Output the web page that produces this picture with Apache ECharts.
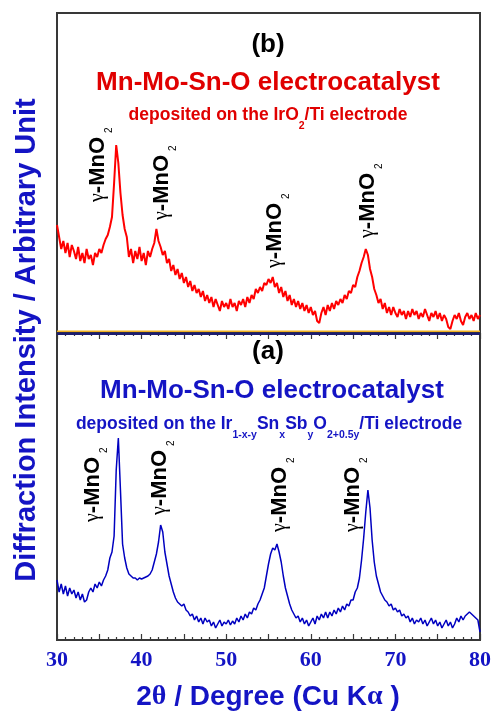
<!DOCTYPE html>
<html>
<head>
<meta charset="utf-8">
<script src="https://cdn.jsdelivr.net/npm/echarts@6/dist/echarts.min.js"></script>
<style>
  html, body { margin: 0; padding: 0; background: #fff; }
  #chart { width: 494px; height: 713px; }
</style>
</head>
<body>
<div id="chart"></div>
<script>
// 2theta grid of the scans (degrees)
const twoThetaStart = 30;
const twoThetaStep = 0.25;

// (b) Mn-Mo-Sn-O on IrO2/Ti, arbitrary intensity, one row per degree
const redIntensity = [
  108, 96, 84, 92,   80, 90, 76, 88,   82, 74, 86, 72,   80, 70, 84, 74,
  78, 68, 80, 76,    84, 80, 88, 94,   98, 106, 116, 150, 188, 170, 140, 118,
  104, 96, 76, 84,   70, 82, 74, 86,   72, 80, 68, 82,   76, 84, 90, 104,
  92, 86, 78, 82,    70, 74, 62, 68,   58, 64, 54, 60,   50, 56, 46, 52,
  42, 48, 40, 44,    36, 42, 32, 38,   30, 36, 26, 34,   28, 22, 32, 26,
  30, 24, 34, 26,    30, 22, 32, 28,   34, 26, 36, 30,   38, 34, 44, 40,
  46, 42, 50, 48,    54, 50, 56, 46,   50, 40, 46, 36,   42, 32, 38, 28,
  34, 26, 32, 24,    30, 22, 28, 20,   26, 18, 22, 12,   10, 20, 26, 18,
  28, 22, 30, 24,    32, 28, 34, 30,   38, 34, 42, 40,   48, 46, 56, 62,
  70, 76, 84, 78,    64, 56, 44, 38,   30, 34, 24, 30,   20, 26, 18, 26,
  20, 16, 24, 18,    22, 14, 22, 16,   24, 18, 22, 14,   20, 16, 24, 18,
  12, 20, 16, 22,    14, 20, 12, 18,   14, 6, 4, 12,     18, 14, 20, 12,
  8, 16, 20, 14,     18, 12, 20, 14,
  18
];

// (a) Mn-Mo-Sn-O on Ir1-x-ySnxSbyO2+0.5y/Ti
const blueIntensity = [
  60, 48, 56, 46,    54, 44, 52, 46,   50, 42, 48, 40,   46, 38, 40, 48,
  52, 48, 56, 52,    58, 54, 60, 64,   70, 82, 88, 104,  170, 202, 150, 96,
  82, 72, 66, 64,    62, 62, 60, 62,   61, 62, 63, 64,   66, 70, 78, 86,
  98, 115, 108, 88,  76, 64, 56, 48,   42, 38, 36, 34,   36, 30, 28, 24,
  26, 20, 24, 18,    22, 16, 22, 18,   20, 14, 18, 12,   16, 20, 14, 18,
  16, 20, 15, 19,    16, 22, 18, 24,   20, 26, 22, 28,   26, 32, 30, 36,
  40, 46, 52, 64,    76, 86, 92, 90,   96, 88, 78, 64,   52, 44, 36, 30,
  26, 22, 24, 18,    22, 16, 20, 14,   18, 22, 16, 24,   20, 26, 22, 28,
  22, 28, 24, 30,    26, 32, 28, 34,   30, 36, 34, 40,   40, 48, 52, 62,
  80, 102, 128, 150, 132, 100, 78, 64, 56, 48, 44, 40,   38, 34, 36, 30,
  32, 28, 30, 24,    26, 22, 24, 18,   22, 16, 20, 18,   22, 16, 20, 14,
  18, 22, 16, 20,    14, 18, 12, 16,   20, 14, 18, 12,   16, 22, 18, 24,
  20, 24, 26, 28,    26, 24, 22, 20,
  8
];

const xMin = 30;
const xMax = 80;
const xMajor = 5;
const xLabelValues = [30, 40, 50, 60, 70, 80];

const SANS = '"Liberation Sans", Arial, sans-serif';
const SERIF = '"Liberation Serif", "Times New Roman", serif';
const BLUE = '#1414c4';
const RED = '#e00000';
const FRAME = '#383838';

function toPairs(values) {
  return values.map((v, i) => [twoThetaStart + i * twoThetaStep, v]);
}

function xAxisFor(gridIndex, position, withLabels) {
  return {
    type: 'value',
    gridIndex: gridIndex,
    position: position,
    min: xMin,
    max: xMax,
    interval: xMajor,
    axisLine: { show: false },
    axisTick: { show: true, inside: true, length: 6, lineStyle: { color: FRAME, width: 1.2 } },
    minorTick: { show: true, splitNumber: 5, length: 3, lineStyle: { color: FRAME, width: 1.2 } },
    splitLine: { show: false },
    minorSplitLine: { show: false },
    axisLabel: {
      show: withLabels,
      margin: 9,
      fontFamily: SERIF,
      fontWeight: 'bold',
      fontSize: 22,
      color: BLUE,
      showMinLabel: true,
      showMaxLabel: true,
      formatter: (v) => (xLabelValues.indexOf(v) >= 0 ? String(v) : '')
    }
  };
}

// rotated "γ-MnO2" peak labels: x = column centre, y = bottom end
function peakLabel(x, y) {
  return {
    type: 'text',
    x: x,
    y: y,
    rotation: Math.PI / 2,
    z: 100,
    style: {
      text: '{g|γ}{m|-MnO}{s|2}',
      align: 'left',
      verticalAlign: 'middle',
      fill: '#000',
      rich: {
        g: { fontFamily: SERIF, fontSize: 20, lineHeight: 24, fill: '#000' },
        m: { fontFamily: SANS, fontSize: 22, fontWeight: 'bold', lineHeight: 24, fill: '#000' },
        s: { fontFamily: SANS, fontSize: 10, lineHeight: 1, verticalAlign: 'top', padding: [18, 0, 0, 4], fill: '#000' }
      }
    }
  };
}

function centerText(x, y, text, size, color, rich) {
  return {
    type: 'text',
    x: x,
    y: y,
    z: 100,
    style: {
      text: text,
      align: 'center',
      verticalAlign: 'middle',
      fontFamily: SANS,
      fontWeight: 'bold',
      fontSize: size,
      fill: color,
      rich: rich
    }
  };
}

const subRich = (color) => ({
  t: { fontFamily: SANS, fontWeight: 'bold', fontSize: 17.5, lineHeight: 20, fill: color },
  s: { fontFamily: SANS, fontWeight: 'bold', fontSize: 10.5, lineHeight: 1, verticalAlign: 'top', padding: [16, 0, 0, 0], fill: color }
});

const chart = echarts.init(document.getElementById('chart'));

const option = {
  animation: false,
  backgroundColor: '#fff',
  grid: [
    { left: 57, right: 14, top: 13, height: 320, show: true, borderColor: FRAME, borderWidth: 2 },
    { left: 57, right: 14, top: 333, height: 307, show: true, borderColor: FRAME, borderWidth: 2 }
  ],
  xAxis: [
    xAxisFor(0, 'top', false),
    xAxisFor(1, 'bottom', true)
  ],
  yAxis: [
    { type: 'value', gridIndex: 0, min: 0, max: 320, show: false },
    { type: 'value', gridIndex: 1, min: 0, max: 307, show: false }
  ],
  series: [
    {
      name: '(b)',
      type: 'line',
      xAxisIndex: 0,
      yAxisIndex: 0,
      data: toPairs(redIntensity),
      showSymbol: false,
      lineStyle: { color: '#ff0000', width: 2 }
    },
    {
      name: '(a)',
      type: 'line',
      xAxisIndex: 1,
      yAxisIndex: 1,
      data: toPairs(blueIntensity),
      showSymbol: false,
      lineStyle: { color: '#0000c0', width: 1.5 }
    }
  ],
  graphic: [
    // divider between the two panels
    { type: 'rect', z: 100, shape: { x: 57, y: 330.5, width: 423, height: 1.5 }, style: { fill: '#f0b020' } },
    { type: 'rect', z: 100, shape: { x: 57, y: 332.5, width: 423, height: 2.5 }, style: { fill: '#1c1c70' } },

    centerText(268, 45, '(b)', 26, '#000'),
    centerText(268, 83, 'Mn-Mo-Sn-O electrocatalyst', 26, RED),
    centerText(268, 115, '{t|deposited on the IrO}{s|2}{t|/Ti electrode}', 17.5, RED, subRich(RED)),

    centerText(268, 352, '(a)', 26, '#000'),
    centerText(272, 391, 'Mn-Mo-Sn-O electrocatalyst', 26, BLUE),
    centerText(269, 424,
      '{t|deposited on the Ir}{s|1-x-y}{t|Sn}{s|x}{t|Sb}{s|y}{t|O}{s|2+0.5y}{t|/Ti electrode}',
      17.5, BLUE, subRich(BLUE)),

    peakLabel(98, 202),
    peakLabel(162, 220),
    peakLabel(275, 268),
    peakLabel(368, 238),

    peakLabel(93, 522),
    peakLabel(160, 515),
    peakLabel(280, 532),
    peakLabel(353, 532),

    // axis titles
    {
      type: 'text', x: 27, y: 340, rotation: Math.PI / 2, z: 100,
      style: {
        text: 'Diffraction Intensity / Arbitrary Unit',
        align: 'center', verticalAlign: 'middle',
        fontFamily: SANS, fontWeight: 'bold', fontSize: 29, fill: BLUE
      }
    },
    centerText(268, 697, '2{g|θ} / Degree (Cu K{g|α} )', 28, BLUE, {
      g: { fontFamily: SERIF, fontWeight: 'bold', fontSize: 28, fill: BLUE }
    })
  ]
};

chart.setOption(option);
</script>
</body>
</html>
